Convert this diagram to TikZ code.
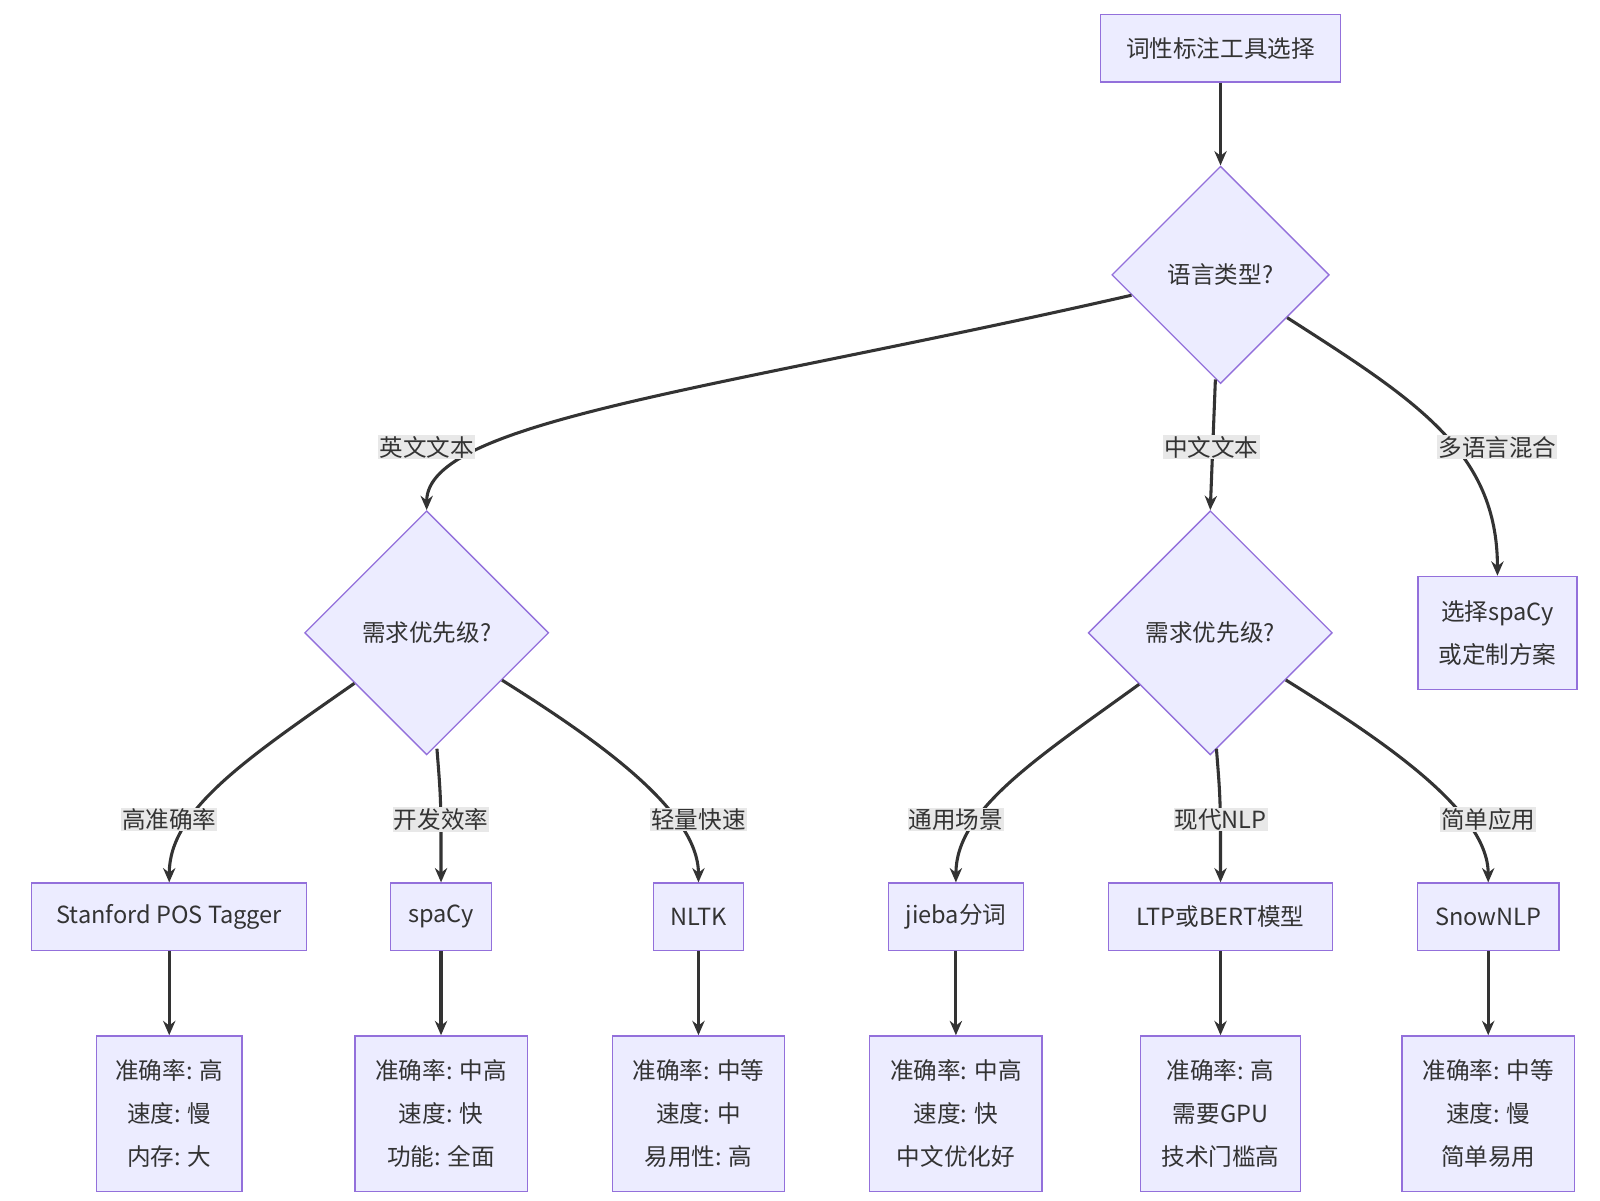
\documentclass[tikz,border=0pt]{standalone}
\usepackage{fontspec}
\setmainfont{Noto Sans CJK SC}
\usetikzlibrary{shapes.geometric,arrows.meta}
\definecolor{nf}{HTML}{ECECFF}
\definecolor{ns}{HTML}{9370DB}
\definecolor{ed}{HTML}{333333}
\definecolor{lb}{HTML}{E8E8E8}
\begin{document}
\begin{tikzpicture}[x=1pt,y=-1pt,
  every node/.style={font=\fontsize{23}{42}\selectfont,text=ed},
  box/.style={draw=ns,fill=nf,line width=1.3pt,align=center,minimum height=66pt,inner sep=0pt},
  dia/.style={draw=ns,fill=nf,line width=1.3pt,diamond,minimum width=#1,minimum height=#1,inner sep=0pt},
  arr/.style={draw=ed,line width=3pt,-{Stealth[length=14pt,width=12pt]}},
  lab/.style={fill=lb,inner sep=1pt}]
\useasboundingbox (0,0) rectangle (1560,1170);
\node[box,minimum width=234pt] (top) at (1190,47) {词性标注工具选择};
\node[dia=212pt] (d1) at (1190,268) {语言类型?};
\node[dia=238pt] (d2) at (416,617) {需求优先级?};
\node[dia=238pt] (d3) at (1180,617) {需求优先级?};
\node[box,minimum width=155pt,minimum height=110pt] (mix) at (1460,617) {选择spaCy\\或定制方案};
\foreach \n/\x/\w/\t in {a/165/268/Stanford POS Tagger,b/430/98/spaCy,c/681/88/NLTK,d/932/132/jieba分词,e/1190/218/LTP或BERT模型,f/1451/138/SnowNLP}
  \node[box,minimum width=\w pt] (\n) at (\x,894) {\t};
\foreach \n/\x/\w/\t in {a2/165/142/{准确率: 高\\速度: 慢\\内存: 大},b2/430/168/{准确率: 中高\\速度: 快\\功能: 全面},c2/681/168/{准确率: 中等\\速度: 中\\易用性: 高},d2x/932/168/{准确率: 中高\\速度: 快\\中文优化好},e2/1190/156/{准确率: 高\\需要GPU\\技术门槛高},f2/1451/168/{准确率: 中等\\速度: 慢\\简单易用}}
  \node[box,minimum width=\w pt,minimum height=152pt] (\n) at (\x,1086) {\t};
\draw[arr] (top) -- (d1);
\draw[arr] (d1) .. controls (700,380) and (416,410) .. (d2.north);
\draw[arr] (1185,370) -- (d3.north);
\draw[arr] (d1) .. controls (1380,390) and (1460,440) .. (mix.north);
\node[lab] at (416,436) {英文文本};
\node[lab] at (1181,436) {中文文本};
\node[lab] at (1460,436) {多语言混合};
\draw[arr] (d2) .. controls (240,740) and (165,790) .. (a.north);
\draw[arr] (426,730) .. controls (430,780) .. (b.north);
\draw[arr] (d2) .. controls (580,720) and (681,790) .. (c.north);
\draw[arr] (d3) .. controls (1010,740) and (932,790) .. (d.north);
\draw[arr] (1186,730) .. controls (1190,780) .. (e.north);
\draw[arr] (d3) .. controls (1345,720) and (1451,790) .. (f.north);
\node[lab] at (165,799) {高准确率};
\node[lab] at (430,799) {开发效率};
\node[lab] at (681,799) {轻量快速};
\node[lab] at (932,799) {通用场景};
\node[lab] at (1190,799) {现代NLP};
\node[lab] at (1451,799) {简单应用};
\foreach \u/\v in {a/a2,b/b2,c/c2,d/d2x,e/e2,f/f2} \draw[arr] (\u) -- (\v);
\end{tikzpicture}
\end{document}
